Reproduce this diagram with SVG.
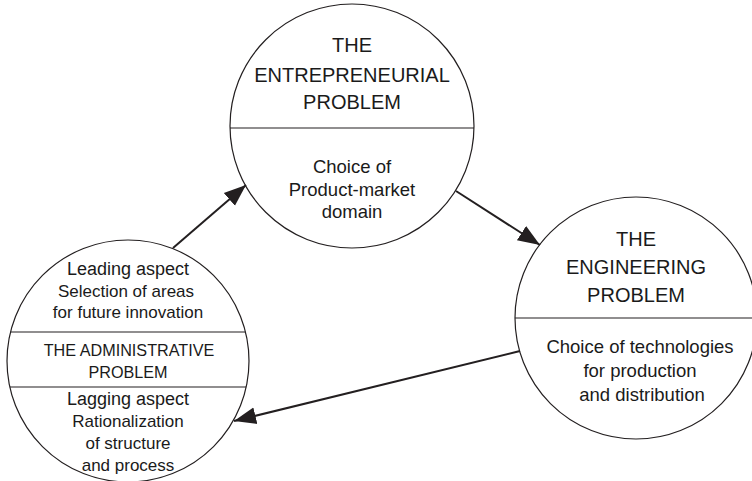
<svg xmlns="http://www.w3.org/2000/svg" width="752" height="481" viewBox="0 0 752 481">
<defs>
<style>
.c{fill:#fff;stroke:#231f20;stroke-width:1.2}
.d{stroke:#231f20;stroke-width:1.2}
.a{stroke:#231f20;stroke-width:2;fill:none}
text{font-family:"Liberation Sans",Arial,sans-serif;fill:#1a1a1a;text-anchor:middle}
.h{font-size:20px}
.b{font-size:18.5px}
.s{font-size:17px}
.m{font-size:16.2px}
</style>
<marker id="ah" markerUnits="userSpaceOnUse" markerWidth="24" markerHeight="20" viewBox="0 0 24 20" refX="22" refY="10" orient="auto">
<path d="M0,1.5 L22,10 L0,18.5 Z" fill="#231f20"/>
</marker>
</defs>
<rect width="752" height="481" fill="#fff"/>
<g id="entrepreneurial">
<circle class="c" cx="352" cy="126" r="122"/>
<line class="d" x1="230" y1="128" x2="474" y2="128"/>
<text class="h" x="352" y="52">THE</text>
<text class="h" x="352" y="82">ENTREPRENEURIAL</text>
<text class="h" x="352" y="109">PROBLEM</text>
<text class="b" x="352" y="173">Choice of</text>
<text class="b" x="352" y="196">Product-market</text>
<text class="b" x="352" y="218">domain</text>
</g>
<g id="engineering">
<circle class="c" cx="636" cy="318" r="121"/>
<line class="d" x1="515" y1="318" x2="757" y2="318"/>
<text class="h" x="636" y="246">THE</text>
<text class="h" x="636" y="274">ENGINEERING</text>
<text class="h" x="636" y="302">PROBLEM</text>
<text class="b" x="640" y="353">Choice of technologies</text>
<text class="b" x="640" y="377">for production</text>
<text class="b" x="642" y="401">and distribution</text>
</g>
<g id="administrative">
<circle class="c" cx="128" cy="361" r="121"/>
<line class="d" x1="10.5" y1="332" x2="245.5" y2="332"/>
<line class="d" x1="9.8" y1="387" x2="246.2" y2="387"/>
<text style="font-size:18px" x="128" y="275">Leading aspect</text>
<text class="s" x="126" y="297">Selection of areas</text>
<text class="s" x="128" y="318">for future innovation</text>
<text class="m" x="129" y="356">THE ADMINISTRATIVE</text>
<text class="m" x="128" y="378">PROBLEM</text>
<text style="font-size:18px" x="128" y="405">Lagging aspect</text>
<text class="s" x="128" y="427">Rationalization</text>
<text class="s" x="128" y="449">of structure</text>
<text class="s" x="128" y="471">and process</text>
</g>
<g id="connectors">
<line class="a" x1="173" y1="248" x2="246" y2="185" marker-end="url(#ah)"/>
<line class="a" x1="456" y1="191" x2="540" y2="245" marker-end="url(#ah)"/>
<line class="a" x1="520" y1="351" x2="234" y2="421" marker-end="url(#ah)"/>
</g>
</svg>
